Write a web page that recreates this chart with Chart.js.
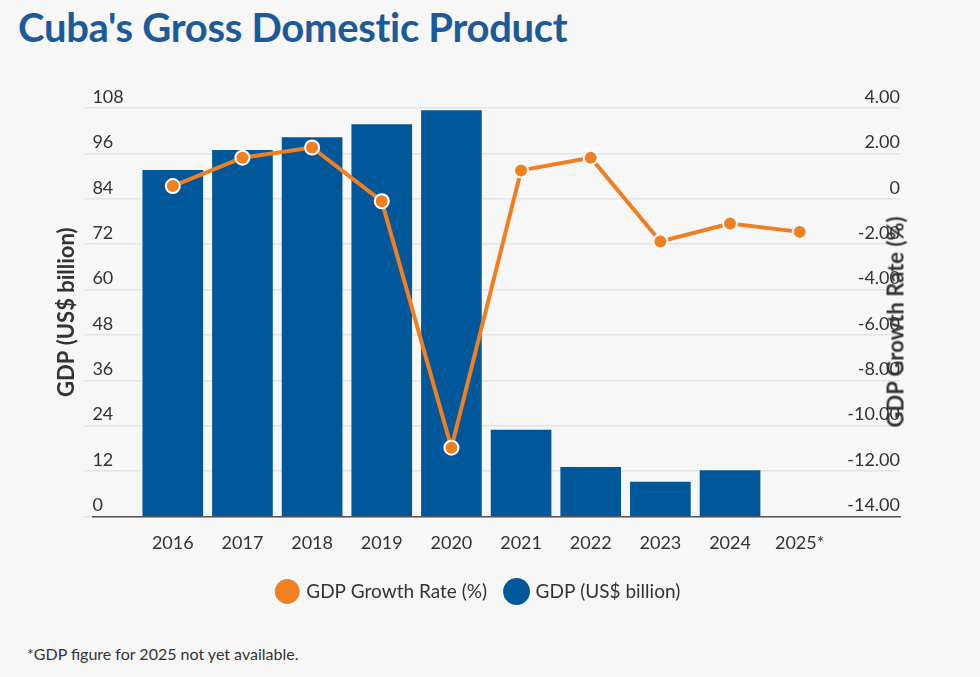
<!DOCTYPE html>
<html><head><meta charset="utf-8">
<script src="https://cdn.jsdelivr.net/npm/chart.js@4"></script>
<style>
body{margin:0;background:#f7f7f7;width:980px;height:677px;overflow:hidden;position:relative;font-family:Lato,sans-serif}
h1{position:absolute;left:18px;top:3px;margin:0;font-size:40px;font-weight:700;color:#1c5a9c;letter-spacing:-0.3px}
#note{position:absolute;left:27px;top:644px;font-size:16px;color:#333}
#wrap{position:absolute;left:0;top:70px;width:980px;height:541px}
#rt{position:absolute;left:895px;top:322px;transform:translate(-50%,-50%) rotate(-90deg);white-space:nowrap;font-size:22px;font-weight:700;color:#333}
</style></head><body>
<h1>Cuba's Gross Domestic Product</h1>
<div id="wrap"><canvas id="c"></canvas></div>
<div id="rt">GDP Growth Rate (%)</div>
<div id="note">*GDP figure for 2025 not yet available.</div>
<script>
const years = ['2016','2017','2018','2019','2020','2021','2022','2023','2024','2025*'];
const gdp = [91.5, 96.8, 100.2, 103.6, 107.3, 22.8, 13.0, 9.1, 12.1, null];
const growth = [0.56, 1.81, 2.26, -0.11, -10.97, 1.25, 1.81, -1.88, -1.09, -1.46];
const gdpTicks = [0,12,24,36,48,60,72,84,96,108];
const growthTicks = ['-14.00','-12.00','-10.00','-8.00','-6.00','-4.00','-2.00','0','2.00','4.00'];

const blue='#00589b', orange='#f07f22';
const tickFont={family:'Lato',size:18};
new Chart(document.getElementById('c'),{
  data:{datasets:[
    {type:'bar',label:'GDP (US$ billion)',yAxisID:'y',data:gdp.map((v,i)=>({x:i,y:v})),
     backgroundColor:blue,barThickness:60,order:1},
    {type:'line',label:'GDP Growth Rate (%)',yAxisID:'y1',data:growth.map((v,i)=>({x:i,y:v})),
     borderColor:orange,backgroundColor:orange,borderWidth:4,pointRadius:7,pointBorderColor:'#fff',pointBorderWidth:2,pointBackgroundColor:orange,order:0}
  ]},
  options:{responsive:true,maintainAspectRatio:false,animation:false,
    layout:{padding:{left:50,right:72,top:38,bottom:0}},
    plugins:{tooltip:{enabled:false},
      legend:{position:'bottom',labels:{usePointStyle:true,pointStyle:'circle',boxWidth:22,boxHeight:22,padding:20,color:'#333',font:{family:'Lato',size:19}}}},
    scales:{
      x:{type:'linear',offset:false,min:-1.154,max:10.44,grid:{display:false},border:{color:'#555',width:1.5},
        ticks:{stepSize:1,autoSkip:false,color:'#333',font:tickFont,padding:8,
          callback:v=>(Number.isInteger(v)&&v>=0&&v<years.length)?years[v]:''}},
      y:{position:'left',min:0,max:108,afterBuildTicks:s=>{s.ticks=gdpTicks.map(v=>({value:v}));},
        grid:{color:'#e4e4e4',lineWidth:1.5},border:{display:false},
        ticks:{mirror:true,padding:0,labelOffset:-11,color:'#333',font:tickFont},
        title:{display:true,text:'GDP (US$ billion)',color:'#333',font:{family:'Lato',size:22,weight:'700'},padding:4}},
      y1:{position:'right',min:-14,max:4,afterBuildTicks:s=>{s.ticks=growthTicks.map(v=>({value:parseFloat(v)}));},
        grid:{display:false},border:{display:false},
        ticks:{mirror:true,padding:0,labelOffset:-11,color:'#333',font:tickFont,
          callback:(v,i)=>growthTicks[i]}}
    }}
});
</script></body></html>
